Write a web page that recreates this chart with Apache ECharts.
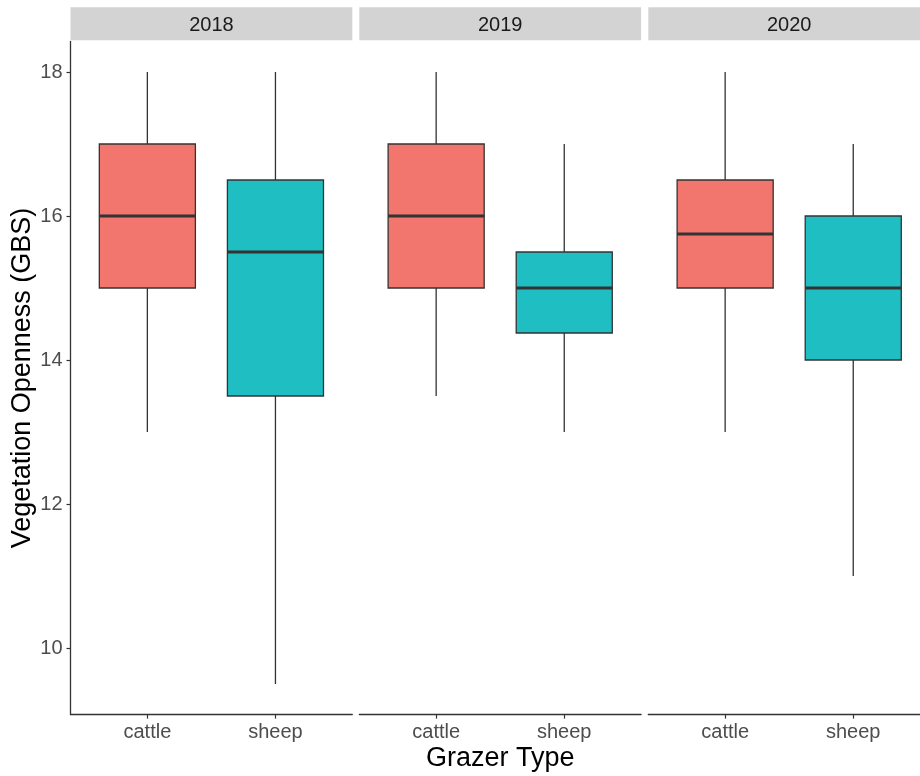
<!DOCTYPE html>
<html>
<head>
<meta charset="utf-8">
<title>Vegetation Openness by Grazer Type</title>
<script src="https://cdn.jsdelivr.net/npm/echarts@6/dist/echarts.min.js"></script>
<style>
  html, body { margin: 0; padding: 0; background: #ffffff; overflow: hidden; }
  /* the last facet runs a little past the right edge of the window */
  #chart { width: 931px; height: 776px; }
</style>
</head>
<body>
<div id="chart"></div>
<script>
// Facet years and grazer groups
const years = ['2018', '2019', '2020'];
const grazers = ['cattle', 'sheep'];

// Box statistics per year: [lower whisker, Q1, median, Q3, upper whisker]
const cattleStats = [
  [13, 15, 16, 17, 18],
  [13.5, 15, 16, 17, 18],
  [13, 15, 15.75, 16.5, 18]
];
const sheepStats = [
  [9.5, 13.5, 15.5, 16.5, 18],
  [13, 14.375, 15, 15.5, 17],
  [11, 14, 15, 16, 17]
];

// Y axis tick labels
const yTicks = [10, 12, 14, 16, 18];

const fills = { cattle: '#F3766E', sheep: '#1EBEC2' };
const lineCol = '#333333';
const fontFam = '"Liberation Sans", Arial, sans-serif';

// Panel geometry (pixels)
const panelLeft = [70.5, 359.3, 648.3];
const panelWidth = 281.8;
const panelTop = 41.4;
const panelHeight = 673.2;
const stripTop = 7.3;
const stripHeight = 33;

const chart = echarts.init(document.getElementById('chart'), null, { renderer: 'canvas' });

function renderBox(params, api) {
  const x = api.value(0);
  const lo = api.value(1), q1 = api.value(2), med = api.value(3), q3 = api.value(4), hi = api.value(5);
  const halfW = api.size([0.75, 0])[0] / 2;
  const pLo = api.coord([x, lo]);
  const pQ1 = api.coord([x, q1]);
  const pMed = api.coord([x, med]);
  const pQ3 = api.coord([x, q3]);
  const pHi = api.coord([x, hi]);
  const fill = api.visual('color');
  return {
    type: 'group',
    children: [
      { type: 'line', shape: { x1: pHi[0], y1: pHi[1], x2: pQ3[0], y2: pQ3[1] },
        style: { stroke: lineCol, lineWidth: 1.3 } },
      { type: 'line', shape: { x1: pQ1[0], y1: pQ1[1], x2: pLo[0], y2: pLo[1] },
        style: { stroke: lineCol, lineWidth: 1.3 } },
      { type: 'rect', shape: { x: pQ3[0] - halfW, y: pQ3[1], width: 2 * halfW, height: pQ1[1] - pQ3[1] },
        style: { fill: fill, stroke: lineCol, lineWidth: 1.3 } },
      { type: 'line', shape: { x1: pMed[0] - halfW, y1: pMed[1], x2: pMed[0] + halfW, y2: pMed[1] },
        style: { stroke: lineCol, lineWidth: 2.8 } }
    ]
  };
}

const grids = [], xAxes = [], yAxes = [], series = [], graphics = [];

years.forEach(function (yr, i) {
  grids.push({ left: panelLeft[i], top: panelTop, width: panelWidth, height: panelHeight, containLabel: false });
  xAxes.push({
    type: 'value', gridIndex: i, min: 0.4, max: 2.6,
    splitLine: { show: false },
    axisLine: { show: true, onZero: false, lineStyle: { color: lineCol, width: 1.3 } },
    axisTick: { show: true, length: 4, customValues: [1, 2], lineStyle: { color: lineCol, width: 1.2 } },
    axisLabel: {
      show: true, customValues: [1, 2], margin: 8,
      formatter: function (v) { return grazers[Math.round(v) - 1] || ''; },
      color: '#4D4D4D', fontSize: 20, fontFamily: fontFam
    }
  });
  yAxes.push({
    type: 'value', gridIndex: i, min: 9.075, max: 18.425,
    splitLine: { show: false },
    axisLine: { show: i === 0, lineStyle: { color: lineCol, width: 1.3 } },
    axisTick: { show: i === 0, length: 4, customValues: yTicks, lineStyle: { color: lineCol, width: 1.2 } },
    axisLabel: {
      show: i === 0, customValues: yTicks, margin: 8,
      color: '#4D4D4D', fontSize: 20, fontFamily: fontFam
    },
    name: i === 0 ? 'Vegetation Openness (GBS)' : '',
    nameLocation: 'middle', nameGap: 31, nameRotate: 90,
    nameTextStyle: { color: '#000000', fontSize: 27, fontFamily: fontFam }
  });

  const stats = [cattleStats[i], sheepStats[i]];
  grazers.forEach(function (g, k) {
    series.push({
      type: 'custom', name: g, xAxisIndex: i, yAxisIndex: i,
      itemStyle: { color: fills[g] },
      renderItem: renderBox,
      encode: { x: 0, y: [1, 2, 3, 4, 5] },
      data: [[k + 1].concat(stats[k])],
      silent: true
    });
  });

  // facet strip
  graphics.push({
    type: 'rect', left: panelLeft[i], top: stripTop,
    shape: { width: panelWidth, height: stripHeight },
    style: { fill: '#D3D3D3' }
  });
  graphics.push({
    type: 'text', x: panelLeft[i] + panelWidth / 2, y: 25,
    style: { text: yr, fill: '#1A1A1A', font: '20px ' + fontFam, textAlign: 'center', textVerticalAlign: 'middle' }
  });
});

// x axis title spanning all panels
graphics.push({
  type: 'text', x: (panelLeft[0] + panelLeft[2] + panelWidth) / 2, y: 759,
  style: { text: 'Grazer Type', fill: '#000000', font: '27px ' + fontFam, textAlign: 'center', textVerticalAlign: 'middle' }
});

chart.setOption({
  backgroundColor: '#ffffff',
  animation: false,
  grid: grids,
  xAxis: xAxes,
  yAxis: yAxes,
  series: series,
  graphic: graphics
});
</script>
</body>
</html>
